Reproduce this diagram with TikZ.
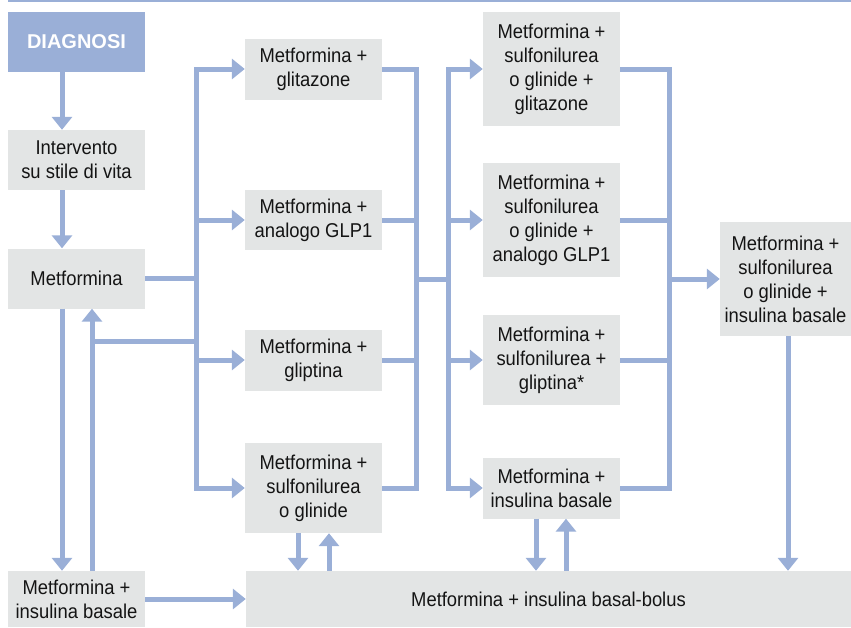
\documentclass[tikz,border=0pt]{standalone}
\usepackage{fontspec}
\setmainfont{Liberation Sans}
\newfontfamily\bodyfont[FakeStretch=0.92]{Liberation Sans}
\usetikzlibrary{arrows.meta}
\definecolor{flowblue}{HTML}{9AAFD7}
\definecolor{boxgray}{HTML}{E3E5E5}
\definecolor{txt}{HTML}{141414}
\begin{document}
\begin{tikzpicture}[x=1pt,y=-1pt,
  box/.style={fill=boxgray, inner sep=0pt, align=center, text=txt,
    font=\bodyfont\fontsize{20}{24}\selectfont, minimum width=137pt},
  ln/.style={draw=flowblue, line width=5pt, line join=miter},
  bus/.style={ln, line cap=rect},
  arr/.style={ln, -{Triangle[width=20pt,length=13pt]}}]
\useasboundingbox (0,0) rectangle (851,627);
% nodes
\node[box, fill=flowblue, text=white, font=\normalfont\bfseries\fontsize{20}{24}\selectfont, minimum height=60pt] (diag) at (76.5,42) {DIAGNOSI};
\node[box, minimum height=60pt] (interv) at (76.5,160) {Intervento\\su stile di vita};
\node[box, minimum height=60pt] (met) at (76.5,278.5) {Metformina};
\node[box, minimum height=56pt] (metins) at (76.5,599) {Metformina +\\insulina basale};
\node[box, minimum height=61pt] (c2a) at (313.5,69) {Metformina +\\glitazone};
\node[box, minimum height=60pt] (c2b) at (313.5,220) {Metformina +\\analogo GLP1};
\node[box, minimum height=61pt] (c2c) at (313.5,360) {Metformina +\\gliptina};
\node[box, minimum height=90pt] (c2d) at (313.5,488) {Metformina +\\sulfonilurea\\o glinide};
\node[box, minimum height=114pt] (c3a) at (551.5,69) {Metformina +\\sulfonilurea\\o glinide +\\glitazone};
\node[box, minimum height=114pt] (c3b) at (551.5,220) {Metformina +\\sulfonilurea\\o glinide +\\analogo GLP1};
\node[box, minimum height=90pt] (c3c) at (551.5,360) {Metformina +\\sulfonilurea +\\gliptina*};
\node[box, minimum height=61pt] (c3d) at (551.5,488) {Metformina +\\insulina basale};
\node[box, minimum width=131pt, minimum height=114pt] (c4) at (785.5,279) {Metformina +\\sulfonilurea\\o glinide +\\insulina basale};
\node[box, minimum width=605pt, minimum height=56pt] (bolus) at (548.5,599) {Metformina + insulina basal-bolus};
% helper coordinates
\coordinate (xA) at (62,0);
\coordinate (xB) at (92,0);
\coordinate (xC) at (298,0);
\coordinate (xD) at (329,0);
\coordinate (xE) at (536,0);
\coordinate (xF) at (566,0);
\coordinate (xG) at (788,0);
\coordinate (bL) at (196,0);
\coordinate (bM1) at (416,0);
\coordinate (bM2) at (448,0);
\coordinate (bR) at (669,0);
\coordinate (hl) at (0,341);
\coordinate (tl) at (8,0.8);
\coordinate (tr) at (851,0.8);
% top rule
\draw[flowblue, line width=1.5pt] (tl) -- (tr);
% left column
\draw[arr] (diag.south -| xA) -- (interv.north -| xA);
\draw[arr] (interv.south -| xA) -- (met.north -| xA);
\draw[arr] (met.south -| xA) -- (metins.north -| xA);
\draw[arr] (metins.north -| xB) -- (met.south -| xB);
\draw[ln] (xB |- hl) -- (bL |- hl);
\draw[ln] (met.east) -- (bL |- met.east);
% bus to column 2
\draw[bus] (bL |- c2a.west) -- (bL |- c2d.west);
\foreach \n in {c2a,c2b,c2c,c2d} \draw[arr] (bL |- \n.west) -- (\n.west);
% column 2 right bus
\draw[ln] (c2a.east) -- (bM1 |- c2a.east) -- (bM1 |- c2d.east) -- (c2d.east);
\draw[ln] (c2b.east) -- (bM1 |- c2b.east);
\draw[ln] (c2c.east) -- (bM1 |- c2c.east);
\draw[ln] (bM1 |- c4.west) -- (bM2 |- c4.west);
% bus to column 3
\draw[bus] (bM2 |- c3a.west) -- (bM2 |- c3d.west);
\foreach \n in {c3a,c3b,c3c,c3d} \draw[arr] (bM2 |- \n.west) -- (\n.west);
% column 3 right bus
\draw[ln] (c3a.east) -- (bR |- c3a.east) -- (bR |- c3d.east) -- (c3d.east);
\draw[ln] (c3b.east) -- (bR |- c3b.east);
\draw[ln] (c3c.east) -- (bR |- c3c.east);
\draw[arr] (bR |- c4.west) -- (c4.west);
% to basal-bolus
\draw[arr] (c4.south -| xG) -- (bolus.north -| xG);
\draw[arr] (c2d.south -| xC) -- (bolus.north -| xC);
\draw[arr] (bolus.north -| xD) -- (c2d.south -| xD);
\draw[arr] (c3d.south -| xE) -- (bolus.north -| xE);
\draw[arr] (bolus.north -| xF) -- (c3d.south -| xF);
\draw[arr] (metins.east) -- (bolus.west);
\end{tikzpicture}
\end{document}
